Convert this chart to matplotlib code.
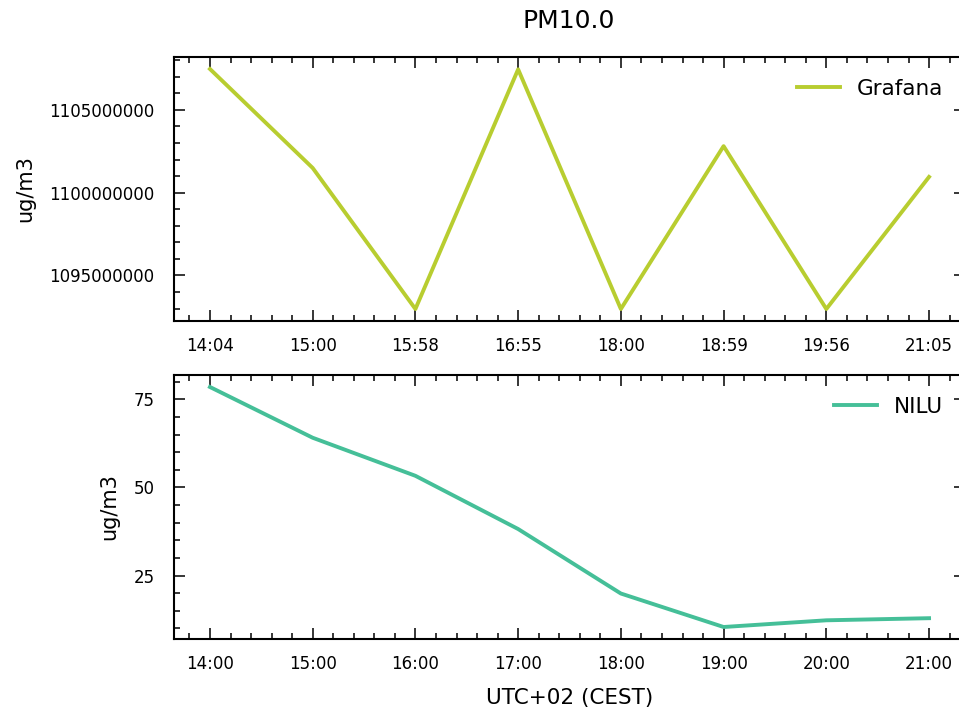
import numpy as np
import matplotlib
matplotlib.use('Agg')
import matplotlib.pyplot as plt
from matplotlib.ticker import AutoMinorLocator, MultipleLocator

## data
grafana_times = ['14:04', '15:00', '15:58', '16:55', '18:00', '18:59', '19:56', '21:05']
grafana_vals = [1107470000, 1101490000, 1092970000, 1107450000,
                1092970000, 1102810000, 1092970000, 1100950000]

nilu_times = ['14:00', '15:00', '16:00', '17:00', '18:00', '19:00', '20:00', '21:00']
nilu_vals = [78.5, 64.1, 53.3, 38.2, 19.9, 10.4, 12.3, 12.9]

grafana_color = '#b8cd30'
nilu_color = '#45bf98'

W, H = 959, 713
fig = plt.figure(figsize=(W / 100, H / 100), dpi=100)

def px_axes(left, top, right, bottom):
    return fig.add_axes([left / W, 1 - bottom / H, (right - left) / W, (bottom - top) / H])

ax1 = px_axes(174, 57, 965, 321)
ax2 = px_axes(174, 375, 965, 639)

def style(ax):
    ax.xaxis.set_minor_locator(AutoMinorLocator(5))
    ax.yaxis.set_minor_locator(AutoMinorLocator(5))
    ax.tick_params(which='both', direction='in', top=True, right=True, width=1.1, labelsize=12)
    ax.tick_params(which='major', length=8)
    ax.tick_params(axis='x', which='major', pad=11.5)
    ax.tick_params(axis='y', which='major', pad=14)
    ax.tick_params(which='minor', length=4)
    for s in ax.spines.values():
        s.set_linewidth(1.5)
    ax.legend(loc='upper right', frameon=False, fontsize=15.5, handlelength=2.0,
              borderaxespad=0.6)
    ax.set_ylabel('ug/m3', fontsize=15, labelpad=10)

x1 = np.arange(len(grafana_times))
ax1.plot(x1, grafana_vals, color=grafana_color, lw=2.8, label='Grafana')
ax1.set_xticks(x1)
ax1.set_xticklabels(grafana_times)
ax1.yaxis.set_major_locator(MultipleLocator(5000000))
ax1.ticklabel_format(axis='y', style='plain', useOffset=False)
style(ax1)

x2 = np.arange(len(nilu_times))
ax2.plot(x2, nilu_vals, color=nilu_color, lw=2.8, label='NILU')
ax2.set_xticks(x2)
ax2.set_xticklabels(nilu_times)
ax2.set_yticks([25, 50, 75])
style(ax2)
ax2.set_xlabel('UTC+02 (CEST)', fontsize=15.5, labelpad=11)

fig.text(569 / W, 1 - 21 / H, 'PM10.0', fontsize=18, ha='center', va='center')

fig.savefig('out.png', dpi=100)
